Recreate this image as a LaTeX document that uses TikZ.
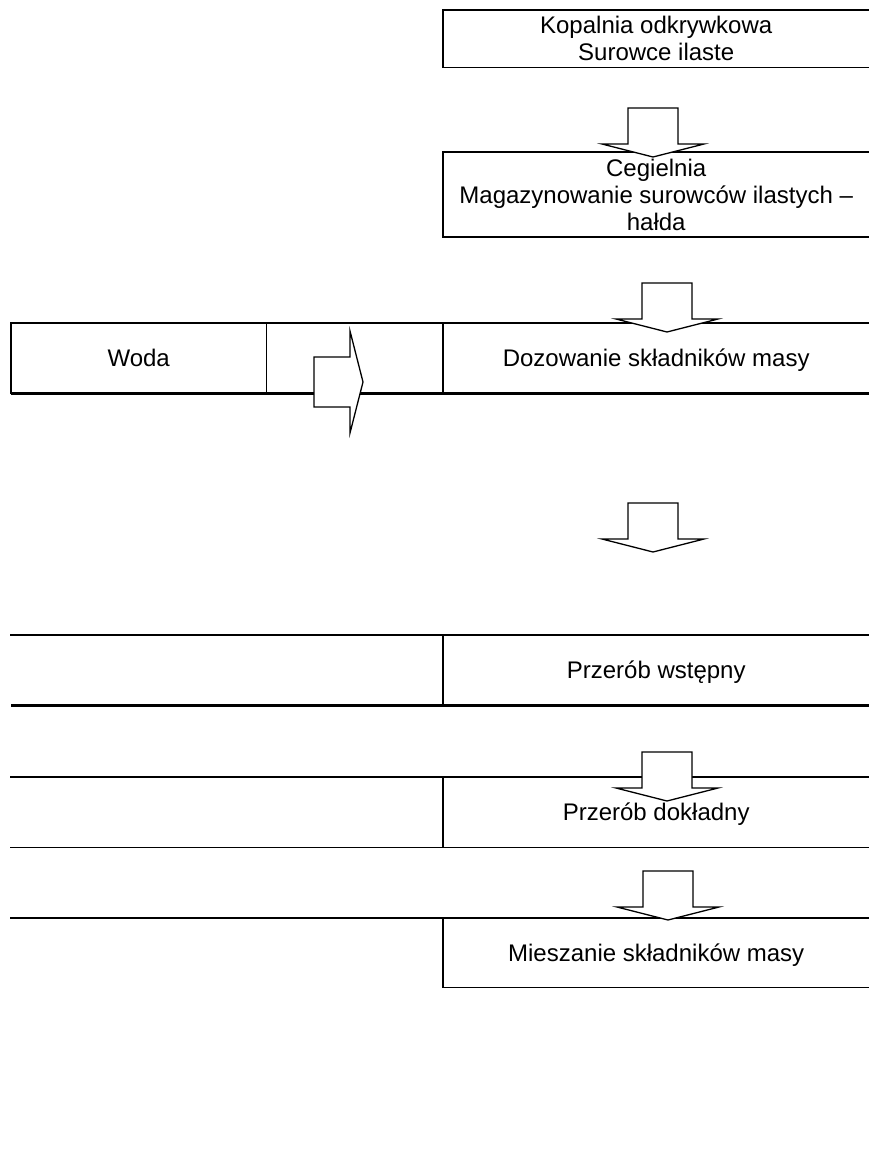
\documentclass[tikz,border=0pt]{standalone}
\usepackage{fontspec}
\setmainfont{Liberation Sans}
\usetikzlibrary{positioning}
\tikzset{
  cell/.style={rectangle, draw=none, inner sep=0pt, anchor=north west, align=center, font=\fontsize{24}{27}\selectfont},
  rowcell/.style={cell, text height=18pt, text depth=0.6pt},
  rule/.style={line width=1.5pt, draw=black, line cap=rect},
  edgerule/.style={line width=2pt, draw=black, line cap=rect},
  hairrule/.style={line width=1pt, draw=black},
  heavyrule/.style={line width=3.2pt, draw=black},
  blockarrow/.pic={\draw[line width=1.3pt, fill=white, line join=miter] (0,-25) -- (36,-25) -- (36,-51) -- (49,0) -- (36,51) -- (36,25) -- (0,25) -- cycle;}
}

\begin{document}
\begin{tikzpicture}[x=1pt, y=-1pt]
\useasboundingbox (0,0) rectangle (869,1154);
% top boxes
\node[cell, minimum width=426pt, minimum height=57pt] (kopalnia) at (443,10) {Kopalnia odkrywkowa\\Surowce ilaste};
\node[cell, minimum width=426pt, minimum height=85pt] (cegielnia) at (443,152) {Cegielnia\\Magazynowanie surowców ilastych --\\hałda};
% rows
\node[rowcell, minimum width=255pt, minimum height=70pt] (woda) at (11,323) {Woda};
\node[rowcell, minimum width=177pt, minimum height=70pt] (przejscie) at (266,323) {};
\node[rowcell, minimum width=426pt, minimum height=70pt] (dozowanie) at (443,323) {Dozowanie składników masy};
\node[rowcell, minimum width=432pt, minimum height=70pt] (wstepnyL) at (11,635) {};
\node[rowcell, minimum width=426pt, minimum height=70pt] (wstepny) at (443,635) {Przerób wstępny};
\node[rowcell, minimum width=432pt, minimum height=70pt] (dokladnyL) at (11,777) {};
\node[rowcell, minimum width=426pt, minimum height=70pt] (dokladny) at (443,777) {Przerób dokładny};
\node[rowcell, minimum width=432pt, minimum height=69pt] (mieszanieL) at (11,918) {};
\node[rowcell, minimum width=426pt, minimum height=69pt] (mieszanie) at (443,918) {Mieszanie składników masy};

\draw[rule] (kopalnia.north east) -- (kopalnia.north west);
\draw[edgerule] (kopalnia.north west) -- (kopalnia.south west);
\draw[hairrule] (kopalnia.south west) -- (kopalnia.south east);
\draw[rule] (cegielnia.north east) -- (cegielnia.north west);
\draw[edgerule] (cegielnia.north west) -- (cegielnia.south west) -- (cegielnia.south east);

\draw[rule] (woda.south west) -- (woda.north west) -- (dozowanie.north east);
\draw[rule] (woda.north east) -- (woda.south east);
\draw[rule] (dozowanie.north west) -- (dozowanie.south west);
\draw[heavyrule] (woda.south west) -- (dozowanie.south east);

\draw[rule] (wstepnyL.north west) -- (wstepny.north east);
\draw[rule] (wstepny.north west) -- (wstepny.south west);
\draw[heavyrule] (wstepnyL.south west) -- (wstepny.south east);

\draw[rule] (dokladnyL.north west) -- (dokladny.north east);
\draw[rule] (dokladny.north west) -- (dokladny.south west);
\draw[rule] (dokladnyL.south west) -- (dokladny.south east);

\draw[rule] (mieszanieL.north west) -- (mieszanie.north east);
\draw[rule] (mieszanie.north west) -- (mieszanie.south west) -- (mieszanie.south east);

% block arrows
\foreach \ax/\ay in {653/108, 667/283, 653/503, 667/752, 668/871}
  \pic[rotate=-90] at (\ax,\ay) {blockarrow};
\pic at (314,382) {blockarrow};
\end{tikzpicture}
\end{document}
